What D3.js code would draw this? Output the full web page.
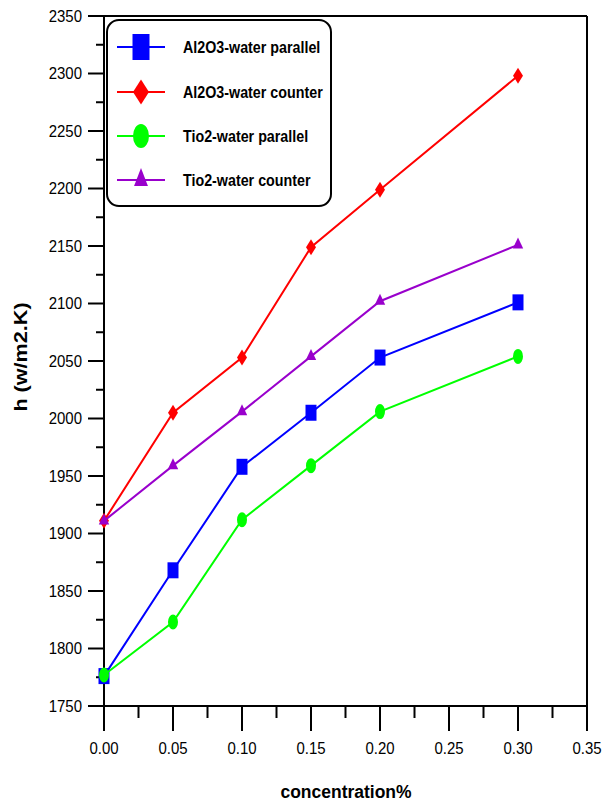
<!DOCTYPE html>
<html>
<head>
<meta charset="utf-8">
<script src="https://cdn.jsdelivr.net/npm/d3@7"></script>
<style>
  body { margin: 0; background: #fff; }
  svg { display: block; }
  text { font-family: "Liberation Sans", Arial, sans-serif; fill: #000; }
</style>
</head>
<body>
<svg id="chart" width="603" height="805"></svg>
<script>
// concentration values (x)
const concentration = [0, 0.05, 0.10, 0.15, 0.20, 0.30];

// heat transfer coefficient h (w/m2.K) for each series
const al2o3Parallel = [1776, 1868, 1958, 2005, 2053, 2101];
const al2o3Counter  = [1911, 2005, 2053, 2149, 2199, 2298];
const tio2Parallel  = [1777, 1823, 1912, 1959, 2006, 2054];
const tio2Counter   = [1911, 1959, 2006, 2054, 2102, 2151];

const seriesNames = ["Al2O3-water parallel", "Al2O3-water counter", "Tio2-water parallel", "Tio2-water counter"];

const xTicks = [0, 0.05, 0.10, 0.15, 0.20, 0.25, 0.30, 0.35];
const yTicks = [1750, 1800, 1850, 1900, 1950, 2000, 2050, 2100, 2150, 2200, 2250, 2300, 2350];

// marker styles
const styles = [
  {color: "#0000ff", type: d3.symbolSquare,  w: 11, h: 16, lw: 17, lh: 26},
  {color: "#ff0000", type: d3.symbolDiamond2, w: 10, h: 16, lw: 16, lh: 25},
  {color: "#00ff00", type: d3.symbolCircle,  w: 10, h: 15, lw: 16, lh: 24},
  {color: "#9900cc", type: d3.symbolTriangle2, w: 12, h: 11, lw: 16, lh: 18}
];

const allSeries = [al2o3Parallel, al2o3Counter, tio2Parallel, tio2Counter];

const svg = d3.select("#chart");
const margin = {left: 104, right: 16, top: 16, bottom: 99};
const width = 603, height = 805;

const x = d3.scaleLinear().domain([0, 0.35]).range([margin.left, width - margin.right]);
const y = d3.scaleLinear().domain([1750, 2350]).range([height - margin.bottom, margin.top]);

const TY = 1.15; // vertical stretch of the texts, as in the picture

// frame: top and right lines
svg.append("line")
  .attr("x1", x(0)).attr("x2", x(0.35))
  .attr("y1", y(2350)).attr("y2", y(2350))
  .attr("stroke", "#000").attr("stroke-width", 2);
svg.append("line")
  .attr("x1", x(0.35)).attr("x2", x(0.35))
  .attr("y1", y(2350)).attr("y2", y(1750))
  .attr("stroke", "#000").attr("stroke-width", 2);

// y axis with major + minor ticks
const yMinor = d3.range(1775, 2350, 50);
const yAxisG = svg.append("g").attr("transform", "translate(" + x(0) + ",0)");
yAxisG.append("line")
  .attr("y1", y(2350)).attr("y2", y(1750))
  .attr("stroke", "#000").attr("stroke-width", 2);
yAxisG.selectAll(".ymaj").data(yTicks).enter().append("line")
  .attr("x1", -16).attr("x2", 0)
  .attr("y1", d => y(d)).attr("y2", d => y(d))
  .attr("stroke", "#000").attr("stroke-width", 2);
yAxisG.selectAll(".ymin").data(yMinor).enter().append("line")
  .attr("x1", -8).attr("x2", 0)
  .attr("y1", d => y(d)).attr("y2", d => y(d))
  .attr("stroke", "#000").attr("stroke-width", 2);
yAxisG.selectAll(".ylab").data(yTicks).enter().append("text")
  .attr("text-anchor", "end")
  .attr("font-size", 15)
  .attr("transform", d => "translate(-22," + (y(d) + 5.5) + ") scale(1," + TY + ")")
  .text(d => d);

// x axis with major + minor ticks
const xMinor = d3.range(0.025, 0.35, 0.05);
const xAxisG = svg.append("g").attr("transform", "translate(0," + y(1750) + ")");
xAxisG.append("line")
  .attr("x1", x(0) - 16).attr("x2", x(0.35))
  .attr("stroke", "#000").attr("stroke-width", 2);
xAxisG.selectAll(".xmaj").data(xTicks).enter().append("line")
  .attr("x1", d => x(d)).attr("x2", d => x(d))
  .attr("y1", 0).attr("y2", 25)
  .attr("stroke", "#000").attr("stroke-width", 2);
xAxisG.selectAll(".xmin").data(xMinor).enter().append("line")
  .attr("x1", d => x(d)).attr("x2", d => x(d))
  .attr("y1", 0).attr("y2", 12)
  .attr("stroke", "#000").attr("stroke-width", 2);
xAxisG.selectAll(".xlab").data(xTicks).enter().append("text")
  .attr("text-anchor", "middle")
  .attr("font-size", 15)
  .attr("transform", d => "translate(" + x(d) + ",48) scale(1," + TY + ")")
  .text(d => d3.format(".2f")(d));

// axis titles
svg.append("text")
  .attr("text-anchor", "middle")
  .attr("font-size", 17.5)
  .attr("font-weight", "bold")
  .attr("transform", "translate(346,798) scale(1,1.1)")
  .text("concentration%");

svg.append("text")
  .attr("text-anchor", "middle")
  .attr("font-size", 18)
  .attr("font-weight", "bold")
  .attr("transform", "translate(27,357) rotate(-90) scale(1.2,1)")
  .text("h (w/m2.K)");

// series lines and markers
const line = d3.line()
  .x((d, i) => x(concentration[i]))
  .y(d => y(d));

function markerPath(st) {
  return d3.symbol().type(st.type).size(100)();
}
// base symbol extents (size 100) used to scale markers to w x h
function symbolBox(type) {
  const sq = Math.sqrt(100);
  if (type === d3.symbolSquare) return [sq, sq];
  if (type === d3.symbolCircle) { const r = Math.sqrt(100 / Math.PI); return [2 * r, 2 * r]; }
  if (type === d3.symbolDiamond2) { const r = Math.sqrt(100) * 0.62625; return [2 * r, 2 * r]; }
  if (type === d3.symbolTriangle2) { const s = Math.sqrt(100) * 0.6824; return [2 * s * 0.866 * 1.155, 1.5 * s]; }
  return [sq, sq];
}

allSeries.forEach(function(values, k) {
  const st = styles[k];
  const g = svg.append("g");
  g.append("path")
    .attr("d", line(values))
    .attr("fill", "none")
    .attr("stroke", st.color)
    .attr("stroke-width", 2);
  const box = symbolBox(st.type);
  g.selectAll("path.mk").data(values).enter().append("path")
    .attr("class", "mk")
    .attr("d", markerPath(st))
    .attr("fill", st.color)
    .attr("transform", (d, i) => "translate(" + x(concentration[i]) + "," + y(d) + ") scale(" + (st.w / box[0]) + "," + (st.h / box[1]) + ")");
});

// legend
const legend = svg.append("g");
legend.append("rect")
  .attr("x", 107).attr("y", 20)
  .attr("width", 224).attr("height", 186)
  .attr("rx", 12).attr("ry", 12)
  .attr("fill", "#fff")
  .attr("stroke", "#000").attr("stroke-width", 2);

const legendY = [47, 92, 136, 180];
seriesNames.forEach(function(name, k) {
  const st = styles[k];
  const box = symbolBox(st.type);
  const ly = legendY[k];
  legend.append("line")
    .attr("x1", 117).attr("x2", 165)
    .attr("y1", ly).attr("y2", ly)
    .attr("stroke", st.color).attr("stroke-width", 2);
  legend.append("path")
    .attr("d", markerPath(st))
    .attr("fill", st.color)
    .attr("transform", "translate(141," + ly + ") scale(" + (st.lw / box[0]) + "," + (st.lh / box[1]) + ")");
  legend.append("text")
    .attr("font-size", 14.3)
    .attr("font-weight", "bold")
    .attr("transform", "translate(183," + (ly + 6) + ") scale(1," + TY + ")")
    .text(name);
});
</script>
</body>
</html>
